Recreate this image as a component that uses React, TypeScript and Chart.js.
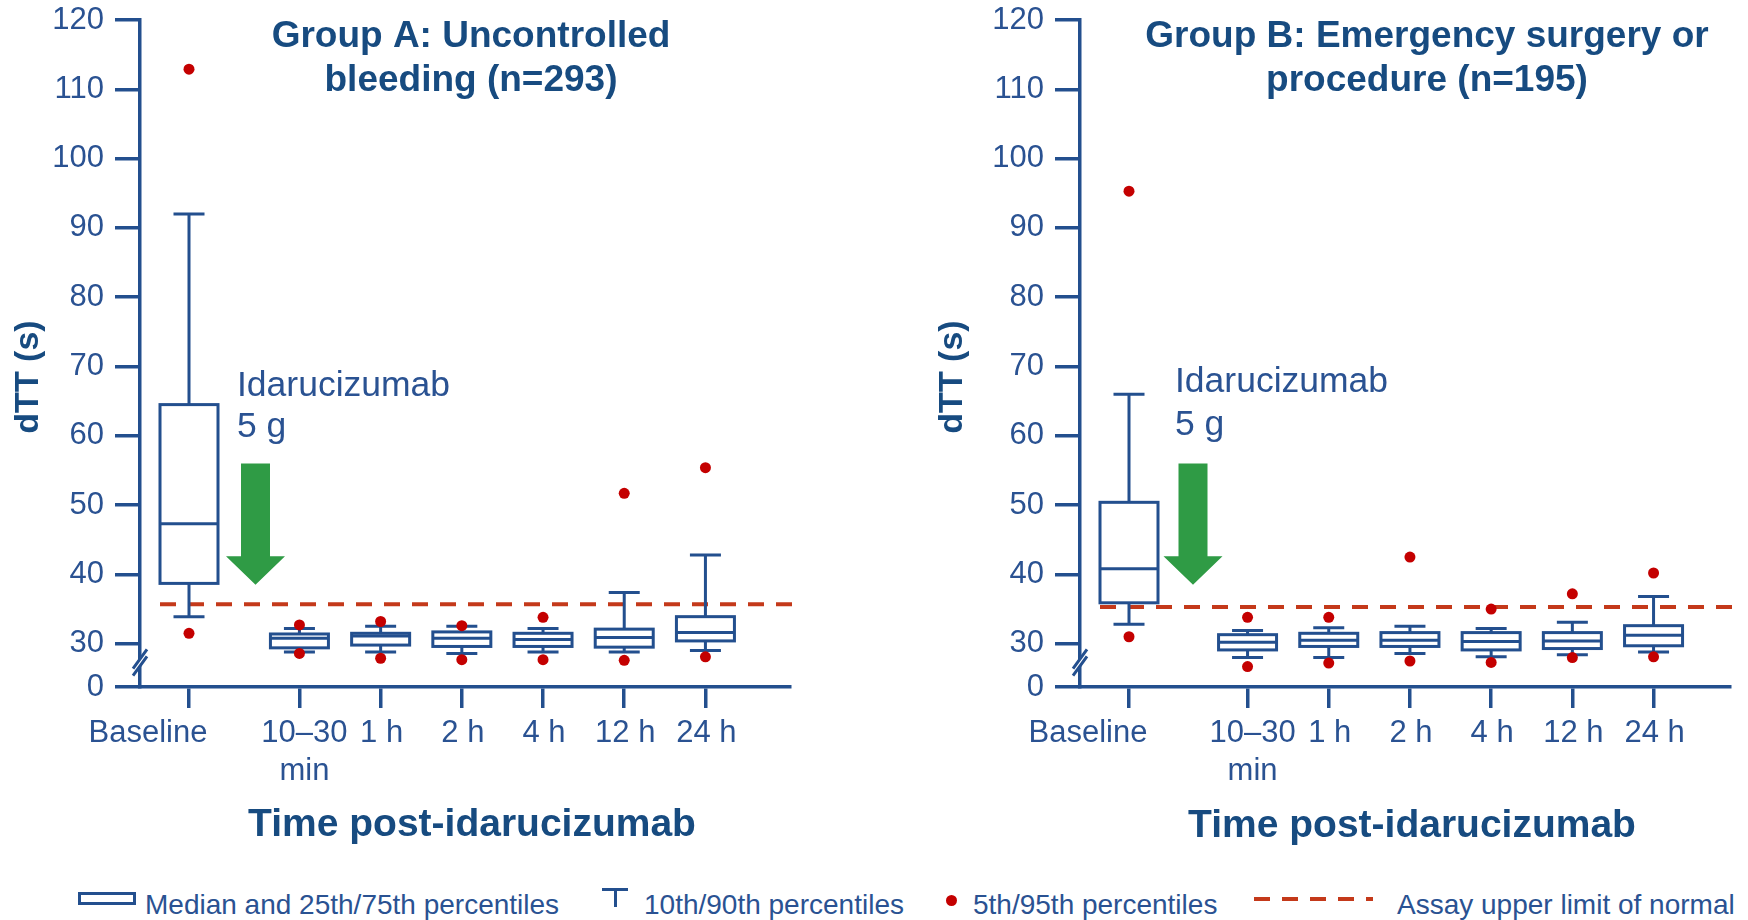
import React, { useEffect, useRef } from "react";
import { Chart, registerables } from "chart.js";

Chart.register(...registerables);

// ---------- data ----------
const categories = ["Baseline", "10–30 min", "1 h", "2 h", "4 h", "12 h", "24 h"];
const yTickValues = [30, 40, 50, 60, 70, 80, 90, 100, 110, 120];
const yAxisZeroLabel = "0";

const titleA = ["Group A: Uncontrolled", "bleeding (n=293)"];
const groupA_p5 = [31.5, 28.6, 27.9, 27.7, 27.7, 27.6, 28.1];
const groupA_p10 = [33.9, 28.8, 28.8, 28.6, 28.8, 28.8, 29.0];
const groupA_q1 = [38.7, 29.4, 29.8, 29.6, 29.6, 29.5, 30.4];
const groupA_median = [47.3, 30.8, 31.1, 30.8, 30.6, 30.9, 31.6];
const groupA_q3 = [64.5, 31.4, 31.5, 31.7, 31.5, 32.1, 33.9];
const groupA_p90 = [92.0, 32.2, 32.5, 32.5, 32.2, 37.4, 42.8];
const groupA_p95 = [112.9, 32.7, 33.2, 32.6, 33.8, 51.7, 55.4];
const groupA_uln = 35.7;

const titleB = ["Group B: Emergency surgery or", "procedure (n=195)"];
const groupB_p5 = [31.0, 26.7, 27.2, 27.5, 27.3, 28.0, 28.1];
const groupB_p10 = [32.8, 28.0, 28.0, 28.6, 28.1, 28.4, 28.8];
const groupB_q1 = [35.9, 29.1, 29.6, 29.6, 29.1, 29.3, 29.7];
const groupB_median = [40.8, 30.2, 30.5, 30.5, 30.3, 30.4, 31.2];
const groupB_q3 = [50.4, 31.3, 31.5, 31.6, 31.6, 31.6, 32.6];
const groupB_p90 = [66.0, 31.9, 32.3, 32.5, 32.2, 33.1, 36.8];
const groupB_p95 = [95.3, 33.8, 33.8, 42.5, 35.0, 37.2, 40.2];
const groupB_uln = 35.3;

const annotationText = ["Idarucizumab", "5 g"];
const yTitle = "dTT (s)";
const xTitle = "Time post-idarucizumab";
const legendLabels = [
  "Median and 25th/75th percentiles",
  "10th/90th percentiles",
  "5th/95th percentiles",
  "Assay upper limit of normal",
];

// ---------- style ----------
const FONT = '"Liberation Sans", Arial, Helvetica, sans-serif';
const NAVY = "#234f8e";
const TEXT = "#2a5292";
const TITLE = "#174b80";
const RED = "#c40000";
const DASH = "#c4391a";
const GREEN = "#2f9b45";
const Y_MIN = 23.75;
const Y_MAX = 120;
const UNIT_PX = 81.2;
const X_MIN = -49 / UNIT_PX;
const X_MAX = X_MIN + 650 / UNIT_PX;
const BOX_HALF = 29;
const CAP_HALF = 15.5;
const CANVAS_W = 874;
const CANVAS_H = 860;
const AREA_TOP = 20;
const AREA_BOTTOM = 687;

const slot = (i: number, gap: number) => (i === 0 ? 0 : gap + i - 1);

const panels = [
  {
    title: titleA,
    p5: groupA_p5, p10: groupA_p10, q1: groupA_q1, med: groupA_median, q3: groupA_q3, p90: groupA_p90, p95: groupA_p95,
    uln: groupA_uln,
    layout: { left: 0, yWidth: 140, padRight: 84, gap: 1.36, titleDx: 331, annotDx: 48, annotY: [396, 437], yTitleX: 29, xTitleY: 836, arrowDx: 66.5 },
  },
  {
    title: titleB,
    p5: groupB_p5, p10: groupB_p10, q1: groupB_q1, med: groupB_median, q3: groupB_q3, p90: groupB_p90, p95: groupB_p95,
    uln: groupB_uln,
    layout: { left: 874, yWidth: 206, padRight: 18, gap: 1.46, titleDx: 347, annotDx: 46, annotY: [392, 435], yTitleX: 79, xTitleY: 837, arrowDx: 64 },
  },
];

function makePlugin(p: any) {
  const L = p.layout;
  return {
    id: "panelDecor",
    beforeDatasetsDraw(chart: any) {
      const { ctx, chartArea } = chart;
      const x = chart.scales.x;
      const y = chart.scales.y;
      ctx.save();
      // assay upper limit of normal
      const yU = y.getPixelForValue(p.uln);
      ctx.strokeStyle = DASH;
      ctx.lineWidth = 4;
      ctx.setLineDash([16, 12]);
      ctx.beginPath();
      ctx.moveTo(x.getPixelForValue(slot(0, L.gap)) - BOX_HALF, yU);
      ctx.lineTo(chartArea.right + 2, yU);
      ctx.stroke();
      ctx.setLineDash([]);
      // boxes and whiskers
      ctx.strokeStyle = NAVY;
      ctx.lineWidth = 3;
      for (let i = 0; i < categories.length; i++) {
        const cx = x.getPixelForValue(slot(i, L.gap));
        const y10 = y.getPixelForValue(p.p10[i]);
        const y25 = y.getPixelForValue(p.q1[i]);
        const y50 = y.getPixelForValue(p.med[i]);
        const y75 = y.getPixelForValue(p.q3[i]);
        const y90 = y.getPixelForValue(p.p90[i]);
        ctx.beginPath();
        ctx.moveTo(cx, y10); ctx.lineTo(cx, y25);
        ctx.moveTo(cx, y75); ctx.lineTo(cx, y90);
        ctx.moveTo(cx - CAP_HALF, y10); ctx.lineTo(cx + CAP_HALF, y10);
        ctx.moveTo(cx - CAP_HALF, y90); ctx.lineTo(cx + CAP_HALF, y90);
        ctx.stroke();
        ctx.fillStyle = "#ffffff";
        ctx.fillRect(cx - BOX_HALF, y75, BOX_HALF * 2, y25 - y75);
        ctx.strokeRect(cx - BOX_HALF, y75, BOX_HALF * 2, y25 - y75);
        ctx.beginPath();
        ctx.moveTo(cx - BOX_HALF, y50); ctx.lineTo(cx + BOX_HALF, y50);
        ctx.stroke();
      }
      ctx.restore();
    },
    afterDraw(chart: any) {
      const { ctx, chartArea } = chart;
      const x = chart.scales.x;
      const y = chart.scales.y;
      ctx.save();
      // axis break
      const ax = chartArea.left;
      const by = 663;
      ctx.fillStyle = "#ffffff";
      ctx.beginPath();
      ctx.moveTo(ax - 6.5, by + 5); ctx.lineTo(ax + 6.5, by - 13);
      ctx.lineTo(ax + 6.5, by - 6); ctx.lineTo(ax - 6.5, by + 12);
      ctx.closePath();
      ctx.fill();
      ctx.strokeStyle = NAVY;
      ctx.lineWidth = 3;
      ctx.beginPath();
      ctx.moveTo(ax - 7, by + 5.7); ctx.lineTo(ax + 7, by - 13.7);
      ctx.moveTo(ax - 7, by + 12.7); ctx.lineTo(ax + 7, by - 6.7);
      ctx.stroke();

      // arrow
      const bx = x.getPixelForValue(slot(0, L.gap));
      const acx = bx + L.arrowDx;
      const yTop = y.getPixelForValue(56);
      const yBase = y.getPixelForValue(42.6);
      const yTip = y.getPixelForValue(38.5);
      ctx.fillStyle = GREEN;
      ctx.beginPath();
      ctx.moveTo(acx - 14.5, yTop); ctx.lineTo(acx + 14.5, yTop);
      ctx.lineTo(acx + 14.5, yBase); ctx.lineTo(acx + 29.5, yBase);
      ctx.lineTo(acx, yTip); ctx.lineTo(acx - 29.5, yBase);
      ctx.lineTo(acx - 14.5, yBase);
      ctx.closePath();
      ctx.fill();

      // title
      ctx.fillStyle = TITLE;
      ctx.font = `bold 37px ${FONT}`;
      ctx.textAlign = "center";
      ctx.textBaseline = "alphabetic";
      ctx.fillText(p.title[0], chartArea.left + L.titleDx, 46.5);
      ctx.fillText(p.title[1], chartArea.left + L.titleDx, 90.5);

      // annotation
      ctx.fillStyle = TEXT;
      ctx.font = `35.5px ${FONT}`;
      ctx.textAlign = "left";
      ctx.fillText(annotationText[0], bx + L.annotDx, L.annotY[0]);
      ctx.fillText(annotationText[1], bx + L.annotDx, L.annotY[1]);

      // category labels
      ctx.font = `31px ${FONT}`;
      ctx.textAlign = "center";
      for (let i = 0; i < categories.length; i++) {
        const cx = x.getPixelForValue(slot(i, L.gap));
        const words = categories[i] === "10–30 min" ? ["10–30", "min"] : [categories[i]];
        const dx = i === 0 ? -41 : i === 1 ? 5 : 1;
        words.forEach((w, k) => ctx.fillText(w, cx + dx, 742 + k * 38));
      }

      // x title
      ctx.fillStyle = TITLE;
      ctx.font = `bold 39px ${FONT}`;
      ctx.fillText(xTitle, chartArea.left + 332, L.xTitleY);

      // y title
      ctx.font = `bold 34px ${FONT}`;
      ctx.translate(L.yTitleX, 377);
      ctx.rotate(-Math.PI / 2);
      ctx.textBaseline = "middle";
      ctx.fillText(yTitle, 0, 0);
      ctx.restore();
    },
  };
}

function Panel({ p }: { p: any }) {
  const ref = useRef<HTMLCanvasElement | null>(null);
  useEffect(() => {
    if (!ref.current) return;
    const L = p.layout;
    const points: any[] = [];
    for (let i = 0; i < categories.length; i++) {
      points.push({ x: slot(i, L.gap), y: p.p5[i] });
      points.push({ x: slot(i, L.gap), y: p.p95[i] });
    }
    const chart = new Chart(ref.current, {
      type: "scatter",
      data: {
        datasets: [
          {
            data: points,
            pointRadius: 5.5,
            pointHoverRadius: 5.5,
            pointBackgroundColor: RED,
            pointBorderWidth: 0,
            showLine: false,
            clip: false,
          } as any,
        ],
      },
      options: {
        responsive: false,
        animation: false,
        devicePixelRatio: 1,
        events: [],
        layout: { autoPadding: false, padding: { left: 0, right: L.padRight, top: AREA_TOP, bottom: 0 } },
        plugins: { legend: { display: false }, tooltip: { enabled: false }, title: { display: false } },
        scales: {
          x: {
            type: "linear",
            min: X_MIN,
            max: X_MAX,
            afterBuildTicks: (s: any) => {
              s.ticks = categories.map((_, i) => ({ value: slot(i, L.gap) }));
            },
            afterFit: (s: any) => {
              s.height = CANVAS_H - AREA_BOTTOM;
              s.paddingLeft = 0;
              s.paddingRight = 0;
            },
            ticks: { display: false },
            grid: {
              display: true,
              drawOnChartArea: false,
              drawTicks: true,
              tickLength: 21,
              tickWidth: 3.5,
              lineWidth: 3.5,
              color: NAVY,
              tickColor: NAVY,
            },
            border: { display: true, color: NAVY, width: 3.5 },
          },
          y: {
            type: "linear",
            min: Y_MIN,
            max: Y_MAX,
            afterBuildTicks: (s: any) => {
              s.ticks = [Y_MIN, ...yTickValues].map((v) => ({ value: v }));
            },
            afterFit: (s: any) => {
              s.width = L.yWidth;
              s.paddingTop = 0;
              s.paddingBottom = 0;
            },
            ticks: {
              callback: (v: any) => (v < yTickValues[0] ? yAxisZeroLabel : String(v)),
              font: { size: 31, family: FONT },
              color: TEXT,
              padding: 11,
            },
            grid: {
              display: true,
              drawOnChartArea: false,
              drawTicks: true,
              tickLength: 25,
              tickWidth: 3.5,
              lineWidth: 3.5,
              color: NAVY,
              tickColor: NAVY,
            },
            border: { display: true, color: NAVY, width: 3.5 },
          },
        },
      } as any,
      plugins: [makePlugin(p)],
    });
    return () => chart.destroy();
  }, [p]);
  return (
    <canvas
      ref={ref}
      width={CANVAS_W}
      height={CANVAS_H}
      style={{ position: "absolute", left: p.layout.left, top: 0, width: CANVAS_W, height: CANVAS_H }}
    />
  );
}

const legendText: React.CSSProperties = {
  position: "absolute",
  top: 891,
  fontFamily: FONT,
  fontSize: 28,
  lineHeight: "28px",
  color: TEXT,
  whiteSpace: "nowrap",
};

export default function App() {
  return (
    <div style={{ position: "fixed", left: 0, top: 0, width: 1748, height: 920, background: "#ffffff", overflow: "hidden" }}>
      {panels.map((p, i) => (
        <Panel key={i} p={p} />
      ))}
      {/* legend */}
      <div style={{ position: "absolute", left: 78, top: 892, width: 58, height: 13, border: `3px solid ${NAVY}`, boxSizing: "border-box" }} />
      <span style={{ ...legendText, left: 145 }}>{legendLabels[0]}</span>
      <div style={{ position: "absolute", left: 602, top: 888, width: 26, height: 3, background: NAVY }} />
      <div style={{ position: "absolute", left: 613.5, top: 888, width: 3, height: 19, background: NAVY }} />
      <span style={{ ...legendText, left: 644 }}>{legendLabels[1]}</span>
      <div style={{ position: "absolute", left: 946, top: 895, width: 11, height: 11, borderRadius: "50%", background: RED }} />
      <span style={{ ...legendText, left: 973 }}>{legendLabels[2]}</span>
      <div
        style={{
          position: "absolute",
          left: 1254,
          top: 897,
          width: 119,
          height: 4,
          background: `repeating-linear-gradient(to right, ${DASH} 0px, ${DASH} 16px, transparent 16px, transparent 28px)`,
        }}
      />
      <span style={{ ...legendText, left: 1397 }}>{legendLabels[3]}</span>
    </div>
  );
}
